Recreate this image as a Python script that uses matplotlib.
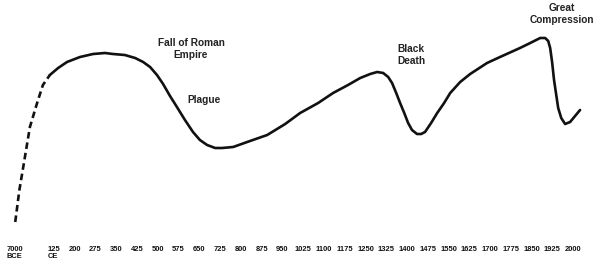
import matplotlib
matplotlib.use("Agg")
import matplotlib.pyplot as plt

# Tick positions (time-axis units) and labels
tick_pos = [-15] + [125 + 75 * k for k in range(26)]
tick_labels = ["7000\nBCE", "125\nCE"] + [str(125 + 75 * k) for k in range(1, 26)]

# Dashed (prehistoric) segment
dash_x = [-15, 0, 20, 38, 64, 85, 110]
dash_y = [14, 46, 79, 109, 133, 151, 161]

# Solid segment
solid_x = [110, 140, 172, 219, 266, 309, 338, 381, 418, 447, 472, 497, 519, 544,
           569, 598, 627, 652, 678, 707, 732, 772, 833, 895, 960, 1014, 1079, 1133,
           1187, 1231, 1267, 1292, 1314, 1332, 1346, 1361, 1375, 1390, 1404, 1418,
           1436, 1451, 1465, 1487, 1509, 1534, 1556, 1592, 1628, 1689, 1736, 1808,
           1845, 1881, 1899, 1910, 1917, 1924, 1931, 1939, 1946, 1957, 1971, 1989,
           2007, 2025]
solid_y = [161, 168, 174, 179, 182, 183, 182, 181, 178, 174, 169, 161, 152, 140,
           129, 116, 104, 96, 91, 88, 88, 89, 95, 101, 112, 123, 133, 143,
           151, 158, 162, 164, 163, 159, 153, 143, 133, 123, 113, 106,
           102, 102, 104, 113, 123, 133, 143, 154, 162, 173, 179, 188,
           193, 198, 198, 195, 188, 174, 156, 141, 128, 118, 112, 114,
           120, 126]

# Annotations
ann_text = ["Fall of Roman\nEmpire", "Plague", "Black\nDeath", "Great\nCompression"]
ann_x = [620, 667, 1415, 1960]
ann_y = [187, 136, 181, 222]

fig = plt.figure(figsize=(6, 2.66), dpi=100)
ax = fig.add_axes([0, 30 / 266, 1, 236 / 266])
ax.set_xlim(-70, 2097)
ax.set_ylim(0, 236)

lc = "#111111"
ax.plot(dash_x, dash_y, color=lc, lw=1.9, linestyle=(0, (2.5, 1.5)),
        dash_capstyle="butt")
ax.plot(solid_x, solid_y, color=lc, lw=1.9, solid_joinstyle="round",
        solid_capstyle="round")

for t, x, y in zip(ann_text, ann_x, ann_y):
    ax.text(x, y, t, ha="center", va="center", fontsize=7.3, fontweight="bold",
            family="Liberation Sans", color="#222222", linespacing=1.15)

ax.set_xticks(tick_pos)
ax.set_xticklabels(tick_labels)
for lbl in ax.get_xticklabels():
    lbl.set_family("Liberation Sans")
    lbl.set_fontweight("bold")
    lbl.set_fontsize(5.4)
    lbl.set_multialignment("left")
    lbl.set_linespacing(1.0)
    lbl.set_color("#111111")
ax.tick_params(axis="x", length=0, pad=7.0)
ax.set_yticks([])
for s in ax.spines.values():
    s.set_visible(False)

fig.savefig("out.png", dpi=100)
